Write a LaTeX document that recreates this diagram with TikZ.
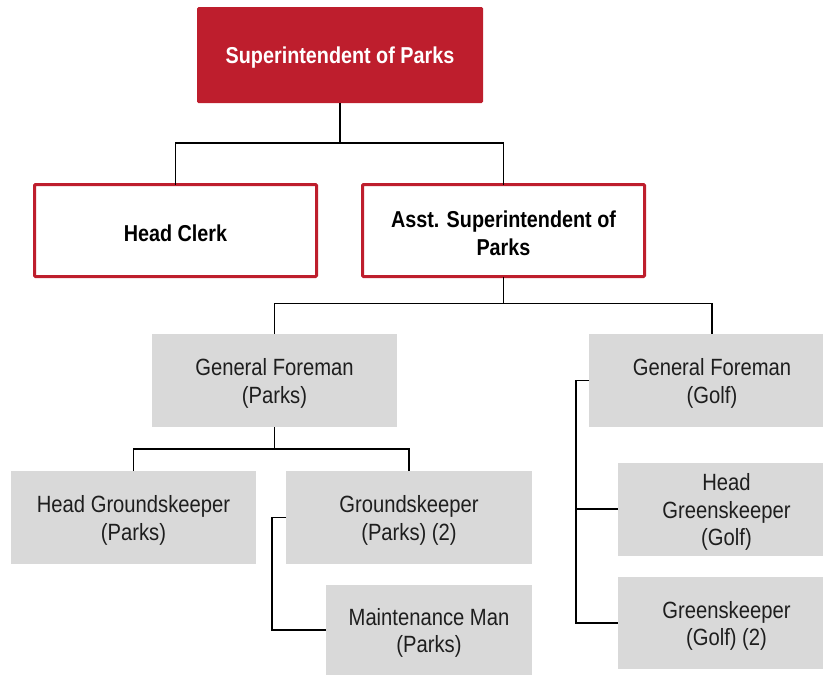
\documentclass[tikz,border=0pt]{standalone}
\usepackage{fontspec}
\setmainfont[FakeStretch=0.86]{Liberation Sans}
\definecolor{parkred}{HTML}{BE1E2D}
\definecolor{boxgray}{HTML}{D9D9D9}
\definecolor{inkgray}{HTML}{1E1E1E}
\begin{document}
\begin{tikzpicture}[x=1pt,y=-1pt,
  every node/.style={inner sep=0pt,outer sep=0pt,align=center},
  boldtxt/.style={font=\fontsize{23}{27.5}\selectfont\bfseries,yshift=-3pt},
  plaintxt/.style={font=\fontsize{23.5}{27.5}\selectfont,text=inkgray,yshift=-3pt},
  headbox/.style={fill=parkred,draw=none,rounded corners=1.5pt,label={[boldtxt,text=white]center:#1}},
  redbox/.style={fill=white,draw=parkred,line width=3pt,rounded corners=1pt,label={[boldtxt,text=black]center:#1}},
  graybox/.style={fill=boxgray,draw=none,label={[plaintxt]center:#1}},
  link/.style={draw=black,line width=1.6pt}]
\useasboundingbox (0,0) rectangle (823,675);

% boxes (the right-hand column runs past the page edge)
\node[headbox={Superintendent of Parks},minimum width=286pt,minimum height=96pt] (sup) at (340,55) {};
\node[redbox={Head Clerk},minimum width=282pt,minimum height=92pt] (clerk) at (175.5,230.5) {};
\node[redbox={Asst. Superintendent of\\Parks},minimum width=282pt,minimum height=92pt] (asst) at (503.5,230.5) {};
\node[graybox={General Foreman\\(Parks)},minimum width=245pt,minimum height=93pt] (gfp) at (274.5,380.5) {};
\node[graybox={General Foreman\\(Golf)},minimum width=246pt,minimum height=93pt] (gfg) at (712,380.5) {};
\node[graybox={Head Groundskeeper\\(Parks)},minimum width=245pt,minimum height=93pt] (hgk) at (133.5,517.5) {};
\node[graybox={Groundskeeper\\(Parks) (2)},minimum width=246pt,minimum height=93pt] (gk) at (409,517.5) {};
\node[graybox={Maintenance Man\\(Parks)},minimum width=206pt,minimum height=90pt] (mm) at (429,630) {};
\node[graybox={Head\\Greenskeeper\\(Golf)},minimum width=217pt,minimum height=93pt] (hgs) at (726.5,509) {};
\node[graybox={Greenskeeper\\(Golf) (2)},minimum width=217pt,minimum height=92pt] (gs) at (726.5,623) {};

% connectors
\draw[link] (sup.south) -- ++(0,40) coordinate (j1);
\draw[link] (clerk.north) |- (j1) -| (asst.north);
\draw[link] (asst.south) -- ++(0,27) coordinate (j2);
\draw[link] (gfp.north) |- (j2) -| (gfg.north);
\draw[link] (gfp.south) -- ++(0,22) coordinate (j3);
\draw[link] (hgk.north) |- (j3) -| (gk.north);
\draw[link] (gk.west) -- ++(-14,0) coordinate (j4) |- (mm.west);
\draw[link] (gfg.west) -- ++(-13,0) coordinate (j5) |- (gs.west);
\draw[link] (j5 |- hgs.west) -- (hgs.west);
\end{tikzpicture}
\end{document}
